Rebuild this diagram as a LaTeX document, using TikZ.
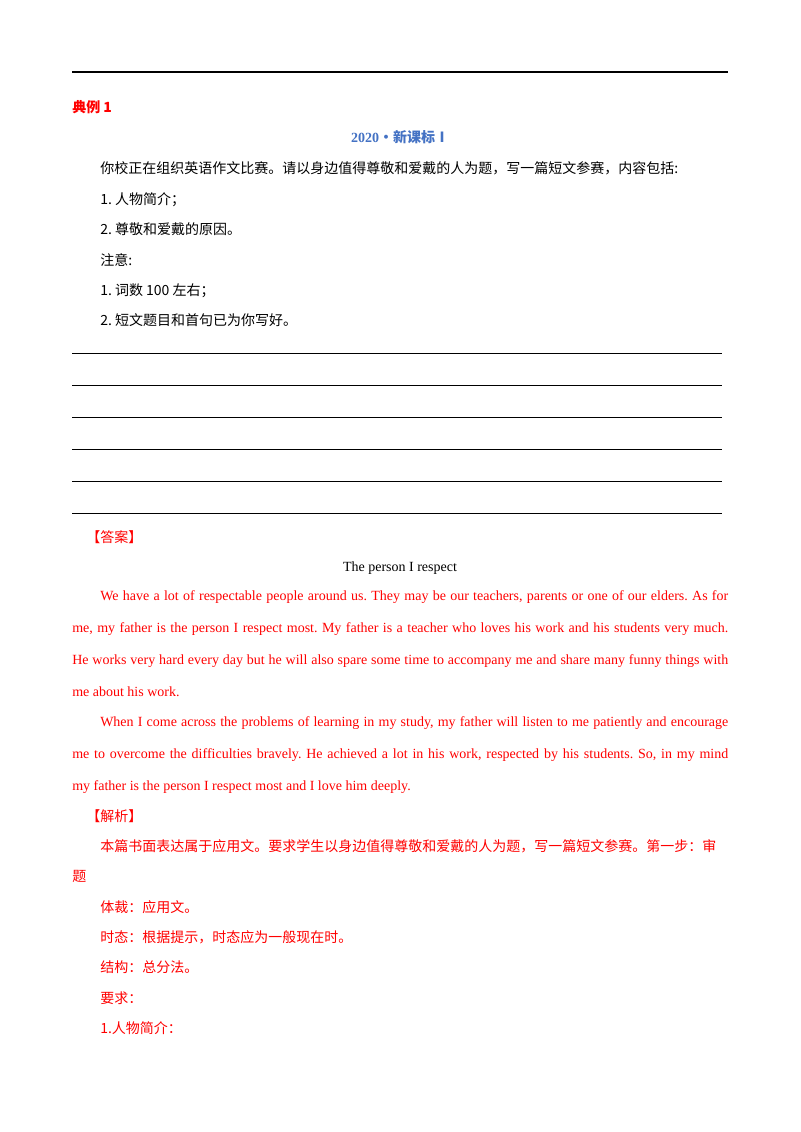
\documentclass[tikz,border=0pt]{standalone}
\usepackage{fontspec}
\setmainfont{Liberation Serif}
\newfontfamily\cjk{Noto Sans CJK SC}
\definecolor{ansred}{RGB}{255,0,0}
\definecolor{hdblue}{RGB}{68,114,196}
\newcommand{\jline}[2]{\makebox[#1][s]{#2}}
\frenchspacing
\begin{document}
\begin{tikzpicture}[x=0.75pt,y=-0.75pt,
  txt/.style={anchor=base west,inner sep=0pt,yshift=-3.75pt,font=\fontsize{10.5}{12}\selectfont\frenchspacing},
  cn/.style={txt,font=\fontsize{10.5}{12}\selectfont\cjk},
  red/.style={text=ansred},
  rule/.style={line width=0.5pt}]
\useasboundingbox[fill=white] (0,0) rectangle (800,1132);
\draw[line width=1.5pt] (72,72) -- (728,72);
\node[cn,red,font=\fontsize{10.5}{12}\selectfont\cjk\bfseries] (h1) at (72,107) {典例 1};
\node[cn,text=hdblue,anchor=base,font=\fontsize{10.5}{12}\selectfont\bfseries] (h2) at (400,137) {2020{\cjk·新课标Ⅰ}};
\node[cn] (q1) at (100,168) {你校正在组织英语作文比赛。请以身边值得尊敬和爱戴的人为题，写一篇短文参赛，内容包括:};
\node[cn] (q2) at (100,199) {1.\ 人物简介；};
\node[cn] (q3) at (100,229) {2.\ 尊敬和爱戴的原因。};
\node[cn] (q4) at (100,260) {注意:};
\node[cn] (q5) at (100,290) {1.\ 词数 100 左右；};
\node[cn] (q6) at (100,320) {2.\ 短文题目和首句已为你写好。};
\foreach \y in {353,385,417,449,481,513} \draw[rule] (72,\y) -- (722,\y);
\node[cn,red] (ans) at (86,537) {【答案】};
\node[txt,anchor=base] (title) at (400,566) {The person I respect};
\node[txt,red] (p1) at (100,595) {\jline{471pt}{We have a lot of respectable people around us. They may be our teachers, parents or one of our elders. As for}};
\node[txt,red] (p2) at (72,627) {\jline{492pt}{me, my father is the person I respect most. My father is a teacher who loves his work and his students very much.}};
\node[txt,red] (p3) at (72,659) {\jline{492pt}{He works very hard every day but he will also spare some time to accompany me and share many funny things with}};
\node[txt,red] (p4) at (72,691) {me about his work.};
\node[txt,red] (p5) at (100,721) {\jline{471pt}{When I come across the problems of learning in my study, my father will listen to me patiently and encourage}};
\node[txt,red] (p6) at (72,753) {\jline{492pt}{me to overcome the difficulties bravely. He achieved a lot in his work, respected by his students. So, in my mind}};
\node[txt,red] (p7) at (72,785) {my father is the person I respect most and I love him deeply.};
\node[cn,red] (jx) at (86,816) {【解析】};
\node[cn,red] (a1) at (100,846) {本篇书面表达属于应用文。要求学生以身边值得尊敬和爱戴的人为题，写一篇短文参赛。第一步：审};
\node[cn,red] (a2) at (72,876) {题};
\node[cn,red] (a3) at (100,907) {体裁：应用文。};
\node[cn,red] (a4) at (100,937) {时态：根据提示，时态应为一般现在时。};
\node[cn,red] (a5) at (100,967) {结构：总分法。};
\node[cn,red] (a6) at (100,998) {要求：};
\node[cn,red] (a7) at (100,1028) {1.人物简介：};
\end{tikzpicture}
\end{document}
